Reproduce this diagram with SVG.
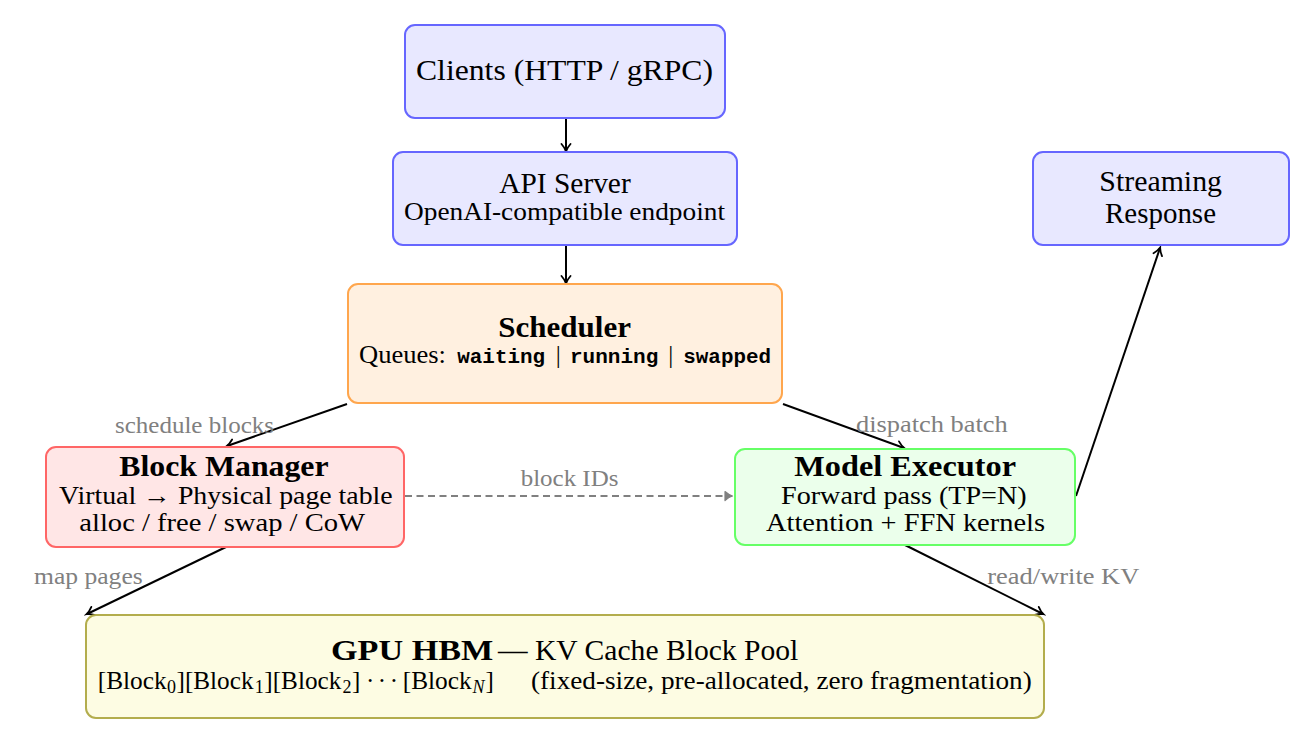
<svg xmlns="http://www.w3.org/2000/svg" width="1313" height="743" viewBox="0 0 1313 743">
<style>
text{font-family:"Liberation Serif","DejaVu Serif",serif;fill:#000}
.t{font-size:29px}
.s{font-size:25px}
.b{font-weight:bold;font-size:29px}
.sub{font-size:18px}
.m{font-family:"Liberation Mono","DejaVu Sans Mono",monospace;font-weight:bold;font-size:20px}
.lab{font-size:23px;fill:#808080}
.mid{text-anchor:middle}
.blue{fill:#e8e8ff;stroke:#6666ff;stroke-width:2}
.orange{fill:#fff0e0;stroke:#ffa64d;stroke-width:2}
.red{fill:#ffe6e6;stroke:#ff6666;stroke-width:2}
.green{fill:#ebffeb;stroke:#66ff66;stroke-width:2}
.olive{fill:#fdfce3;stroke:#b3ad4d;stroke-width:2}
.c{fill:none;stroke:#000;stroke-width:2;marker-end:url(#ah)}
.d{fill:none;stroke:#808080;stroke-width:2;stroke-dasharray:7,4.5;marker-end:url(#ahg)}
</style>
<defs>
<marker id="ah" markerWidth="12" markerHeight="12" refX="9" refY="6" orient="auto" markerUnits="userSpaceOnUse">
<path d="M2,1.5 Q6,5 9.5,6 Q6,7 2,10.5" fill="none" stroke="#000" stroke-width="1.8" stroke-linecap="round"/>
</marker>
<marker id="ahg" markerWidth="12" markerHeight="12" refX="9" refY="6" orient="auto" markerUnits="userSpaceOnUse">
<path d="M2,1.5 Q6,5 9.5,6 Q6,7 2,10.5 Z" fill="#808080" stroke="#808080" stroke-width="1.2" stroke-linejoin="round"/>
</marker>
</defs>
<rect width="1313" height="743" fill="#fff"/>
<g id="connectors">
<line class="c" x1="566" y1="119" x2="566" y2="151"/>
<line class="c" x1="566" y1="246" x2="566" y2="283"/>
<line class="c" x1="347" y1="404" x2="227" y2="446"/>
<line class="c" x1="783" y1="404" x2="904" y2="448"/>
<line class="d" x1="405" y1="496" x2="732" y2="496"/>
<line class="c" x1="1076" y1="496" x2="1160" y2="248"/>
<line class="c" x1="226" y1="547" x2="87" y2="614"/>
<line class="c" x1="905" y1="545" x2="1043" y2="614"/>
<text class="lab" x="115" y="433" textLength="159" lengthAdjust="spacingAndGlyphs">schedule blocks</text>
<text class="lab" x="856" y="431.5" textLength="151.7" lengthAdjust="spacingAndGlyphs">dispatch batch</text>
<text class="lab" x="520.7" y="486" textLength="97.7" lengthAdjust="spacingAndGlyphs">block IDs</text>
<text class="lab" x="34" y="584" textLength="108.7" lengthAdjust="spacingAndGlyphs">map pages</text>
<text class="lab" x="987.3" y="584" textLength="152" lengthAdjust="spacingAndGlyphs">read/write KV</text>
</g>
<g id="clients">
<rect class="blue" x="405" y="25" width="320" height="93" rx="10"/>
<text class="t" x="416" y="80" textLength="297" lengthAdjust="spacingAndGlyphs">Clients (HTTP / gRPC)</text>
</g>
<g id="api-server">
<rect class="blue" x="393" y="152" width="344" height="93" rx="10"/>
<text class="t" x="499.3" y="193" textLength="131.4" lengthAdjust="spacingAndGlyphs" font-size="27">API Server</text>
<text class="s" x="404" y="220" textLength="321" lengthAdjust="spacingAndGlyphs" font-size="24">OpenAI-compatible endpoint</text>
</g>
<g id="streaming-response">
<rect class="blue" x="1033" y="152" width="256" height="93" rx="10"/>
<text class="t" x="1099.3" y="191" textLength="122.7" lengthAdjust="spacingAndGlyphs">Streaming</text>
<text class="t" x="1105" y="222.7" textLength="111" lengthAdjust="spacingAndGlyphs">Response</text>
</g>
<g id="scheduler">
<rect class="orange" x="348" y="284" width="434" height="119" rx="10"/>
<text class="b" x="498.3" y="337" textLength="132.7" lengthAdjust="spacingAndGlyphs">Scheduler</text>
<text class="s" x="359" y="363.3" textLength="87" lengthAdjust="spacingAndGlyphs">Queues:</text>
<text class="m" x="457.3" y="363.3" textLength="87.7" lengthAdjust="spacingAndGlyphs">waiting</text>
<text class="s mid" x="558.3" y="363.3">|</text>
<text class="m" x="570" y="363.3" textLength="88.3" lengthAdjust="spacingAndGlyphs">running</text>
<text class="s mid" x="670.7" y="363.3">|</text>
<text class="m" x="683.3" y="363.3" textLength="87.7" lengthAdjust="spacingAndGlyphs">swapped</text>
</g>
<g id="block-manager">
<rect class="red" x="46" y="447" width="358" height="100" rx="10"/>
<text class="b" x="119.3" y="476" textLength="209.3" lengthAdjust="spacingAndGlyphs">Block Manager</text>
<text class="s" x="59" y="503.5" textLength="333.7" lengthAdjust="spacingAndGlyphs">Virtual → Physical page table</text>
<text class="s" x="79.3" y="530.5" textLength="285.7" lengthAdjust="spacingAndGlyphs">alloc / free / swap / CoW</text>
</g>
<g id="model-executor">
<rect class="green" x="735" y="449" width="340" height="96" rx="10"/>
<text class="b" x="794.3" y="476" textLength="221.7" lengthAdjust="spacingAndGlyphs">Model Executor</text>
<text class="s" x="781" y="503.5" textLength="245.7" lengthAdjust="spacingAndGlyphs">Forward pass (TP=N)</text>
<text class="s" x="766" y="530.5" textLength="279" lengthAdjust="spacingAndGlyphs">Attention + FFN kernels</text>
</g>
<g id="gpu-hbm">
<rect class="olive" x="86" y="615" width="958" height="103" rx="10"/>
<text class="b" x="331" y="660" textLength="162.3" lengthAdjust="spacingAndGlyphs">GPU HBM</text>
<text class="t" x="498" y="660" textLength="300.3" lengthAdjust="spacingAndGlyphs">— KV Cache Block Pool</text>
<text class="s" x="97.7" y="688.5" textLength="69" lengthAdjust="spacingAndGlyphs">[Block</text>
<text class="sub" x="167" y="692.5">0</text>
<text class="s" x="176.5" y="688.5" textLength="77" lengthAdjust="spacingAndGlyphs">][Block</text>
<text class="sub" x="254.8" y="692.5">1</text>
<text class="s" x="264.3" y="688.5" textLength="77" lengthAdjust="spacingAndGlyphs">][Block</text>
<text class="sub" x="342.6" y="692.5">2</text>
<text class="s" x="352" y="688.5">]</text>
<text class="s" x="366" y="688.5" textLength="32" lengthAdjust="spacing">· · ·</text>
<text class="s" x="402.7" y="688.5" textLength="69" lengthAdjust="spacingAndGlyphs">[Block</text>
<text class="sub" x="472.5" y="692.5" font-style="italic">N</text>
<text class="s" x="485.5" y="688.5">]</text>
<text class="s" x="531" y="688.5" textLength="500.7" lengthAdjust="spacingAndGlyphs">(fixed-size, pre-allocated, zero fragmentation)</text>
</g>
</svg>
